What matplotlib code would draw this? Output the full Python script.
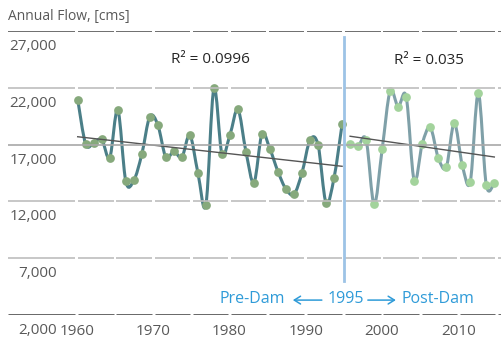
import numpy as np
import matplotlib
matplotlib.use('Agg')
import matplotlib.pyplot as plt
from matplotlib.path import Path
from matplotlib.patches import PathPatch

# ---------------- data ----------------
pre_years = list(range(1960, 1994))
pre_flow = [20970, 17030, 17140, 17450, 15850, 20060, 13780, 13840, 16150, 19460,
            18740, 15890, 16410, 15890, 17830, 14530, 11700, 21960, 16170, 17850,
            20090, 16380, 13650, 17930, 16590, 14620, 13070, 12630, 14530, 17410,
            16970, 11860, 14090, 18790]
post_years = list(range(1994, 2013))
post_flow = [17050, 16880, 17410, 11750, 16590, 21720, 20340, 21220, 13820, 17050,
             18520, 15850, 15000, 18880, 15200, 13730, 21520, 13440, 13650]
r2_pre = "R² = 0.0996"
r2_post = "R² = 0.035"
dam_year = 1995
year_ticks = [1960, 1970, 1980, 1990, 2000, 2010]
flow_ticks = [2000, 7000, 12000, 17000, 22000, 27000]
y_title = "Annual Flow, [cms]"

FONT = ['Open Sans', 'DejaVu Sans']
plt.rcParams['font.family'] = FONT
TXT = '#595959'
BLUE = '#2f9bd8'

W, H = 502, 344
fig = plt.figure(figsize=(W / 100, H / 100), dpi=100)
left_px, right_px, top_px, bot_px = 8, 502, 31, 315
ax = fig.add_axes([left_px / W, 1 - bot_px / H, (right_px - left_px) / W, (bot_px - top_px) / H])
ax.set_ylim(flow_ticks[0], flow_ticks[-1])
ax.set_xlim(1951.30, 2012.96)
ax.axis('off')

# label axis (year labels, grid breaks, dam line)
ax2 = ax.twiny()
ax2.set_xlim(1950.98, 2015.73)
ax2.set_ylim(flow_ticks[0], flow_ticks[-1])
for s in ax2.spines.values():
    s.set_visible(False)
ax2.patch.set_visible(False)
ax2.set_xticks(year_ticks)
ax2.set_xticklabels([str(y) for y in year_ticks])
ax2.xaxis.set_ticks_position('bottom')
ax2.xaxis.set_label_position('bottom')
ax2.tick_params(axis='x', length=0, pad=6.5, labelsize=11, colors=TXT)
ax2.set_yticks([])

# segmented gridlines (break every 5 years)
xl, xr = ax2.get_xlim()
gap = 0.19
breaks = list(range(1960, 2016, 5))
edges = [xl] + breaks + [xr]
for v in flow_ticks:
    if v == flow_ticks[0]:
        c, lw, z, seg = '#595959', 2.0, 3, True
    elif v == flow_ticks[-1]:
        c, lw, z, seg = '#6e6e6e', 1.4, 3, True
    elif v == 17000:
        c, lw, z, seg = '#a8a8a8', 1.2, 1, False
    else:
        c, lw, z, seg = '#bdbdbd', 1.2, 1, True
    if seg:
        for a, b in zip(edges[:-1], edges[1:]):
            a2 = a + gap if a in breaks else a
            b2 = b - gap if b in breaks else b
            ax2.plot([a2, b2], [v, v], color=c, lw=lw, solid_capstyle='butt', zorder=z)
    else:
        ax2.plot([xl, xr], [v, v], color=c, lw=lw, solid_capstyle='butt', zorder=z)

# y tick labels under each gridline, right aligned
for v in flow_ticks:
    ax.annotate(f"{v:,}", xy=(0, v), xycoords=('axes fraction', 'data'),
                xytext=(49, -15.5), textcoords='offset pixels',
                ha='right', va='center', fontsize=11, color=TXT)

# dam line and annotation
ax2.axvline(dam_year, ymin=0.121, ymax=0.98, color='#9dc3e6', lw=2.0, zorder=2)
xt = ax2.get_xaxis_transform()
row = 0.056
for s, dx, ha in [("Pre-Dam", -59, 'right'), (str(dam_year), 1.6, 'center'),
                  ("Post-Dam", 58, 'left')]:
    ax2.annotate(s, xy=(dam_year, row), xycoords=xt, xytext=(dx, 0), textcoords='offset pixels',
                 ha=ha, va='center', fontsize=11.5, color=BLUE)
# arrows pointing away from the dam year
anchor = xt.transform((dam_year, row))
inv = ax2.transData.inverted()
for tail, head in [(-22, -51), (24, 52)]:
    p_tail = inv.transform(anchor + np.array([tail, -1]))
    p_head = inv.transform(anchor + np.array([head, -1]))
    ax2.annotate('', xy=tuple(p_head), xytext=tuple(p_tail), xycoords='data', textcoords='data',
                 arrowprops=dict(arrowstyle='->,head_length=0.45,head_width=0.28', lw=1.1,
                                 color=BLUE, shrinkA=0, shrinkB=0))


def smooth_path(x, y):
    x = np.asarray(x, float)
    y = np.asarray(y, float)
    n = len(x)
    verts = [(x[0], y[0])]
    codes = [Path.MOVETO]
    for i in range(n - 1):
        x0, y0 = (x[i - 1], y[i - 1]) if i > 0 else (x[i], y[i])
        x3, y3 = (x[i + 2], y[i + 2]) if i + 2 < n else (x[i + 1], y[i + 1])
        c1 = (x[i] + (x[i + 1] - x0) / 6, y[i] + (y[i + 1] - y0) / 6)
        c2 = (x[i + 1] - (x3 - x[i]) / 6, y[i + 1] - (y3 - y[i]) / 6)
        verts += [c1, c2, (x[i + 1], y[i + 1])]
        codes += [Path.CURVE4] * 3
    return Path(verts, codes)


for xs, ys, lc, mc in [(pre_years, pre_flow, '#4b7f88', '#86a97c'),
                       (post_years, post_flow, '#7fa0a8', '#a3d39c')]:
    ax.add_patch(PathPatch(smooth_path(xs, ys), fill=False, edgecolor=lc, lw=2.2,
                           capstyle='round', joinstyle='round', zorder=4))
    ax.plot(xs, ys, 'o', ms=6.3, color=mc, mec='none', zorder=5)
    k, b = np.polyfit(xs, ys, 1)
    xx = np.array([xs[0], xs[-1]], float)
    ax.plot(xx, k * xx + b, color='#555555', lw=1.0, zorder=6)

ax.text(0.409, 0.898, r2_pre, transform=ax.transAxes, ha='center', va='center',
        fontsize=11, color='#262626')
ax.text(0.852, 0.895, r2_post, transform=ax.transAxes, ha='center', va='center',
        fontsize=11, color='#262626')

fig.text(8 / W, 1 - 16.5 / H, y_title, ha='left', va='center', fontsize=10, color=TXT)

fig.savefig('out.png', dpi=100)
